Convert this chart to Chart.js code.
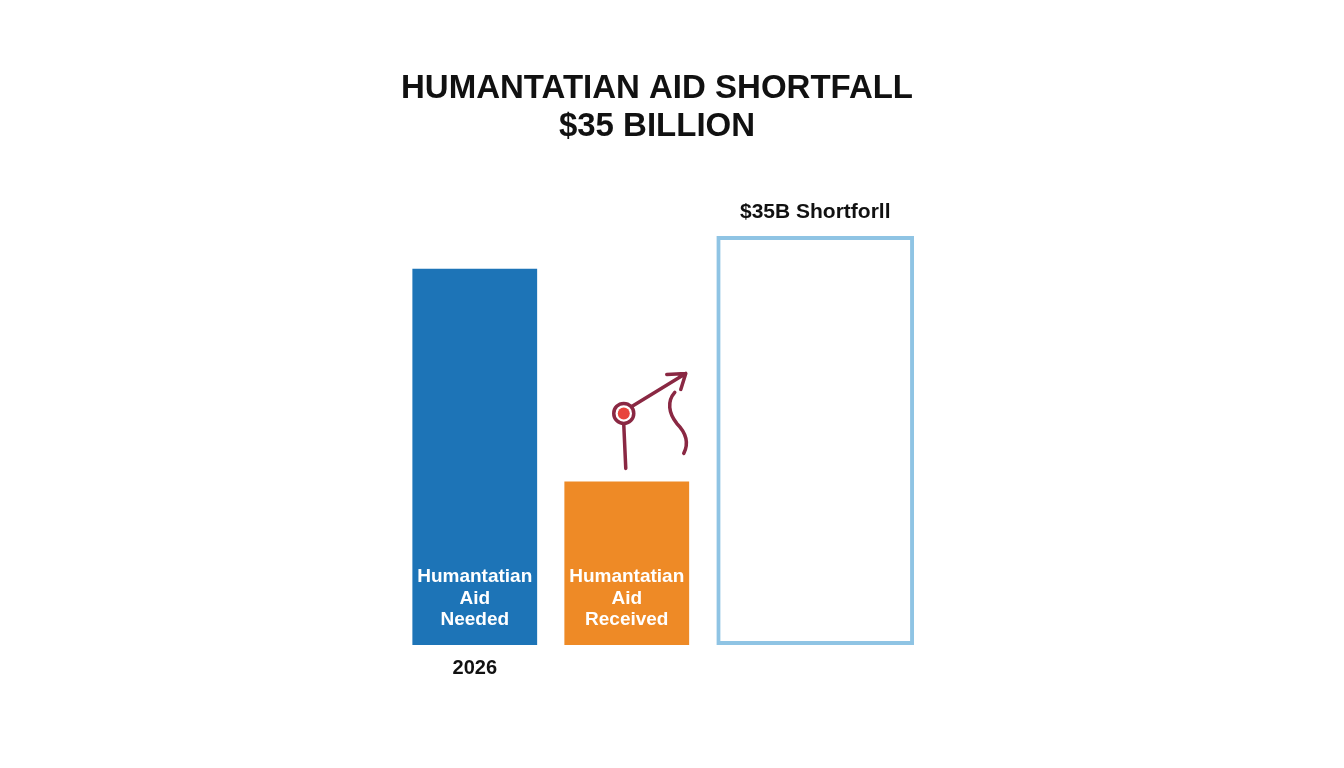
<!DOCTYPE html>
<html>
<head>
<meta charset="utf-8">
<script src="https://cdn.jsdelivr.net/npm/chart.js@4"></script>
<style>
  html, body { margin: 0; padding: 0; background: #ffffff; }
  #wrap { width: 1344px; height: 768px; position: relative; }
</style>
</head>
<body>
<div id="wrap"><canvas id="aidChart"></canvas></div>
<script>
// data (no axis shown, units relative)
const categories = ["Needed", "Received", "Shortfall"];
const aidValues = [46, 20, null];
const shortfallValues = [null, null, 50];
const barLabels = [
  ["Humantatian", "Aid", "Needed"],
  ["Humantatian", "Aid", "Received"]
];
const yearLabel = "2026";
const shortfallLabel = "$35B Shortforll";
const titleLines = ["HUMANTATIAN AID SHORTFALL", "$35 BILLION"];

const FONT = "'Liberation Sans', Arial, sans-serif";

// titles, labels in bars and the little arrow doodle
const textPlugin = {
  id: "textPlugin",
  afterDatasetsDraw(chart) {
    const ctx = chart.ctx;
    const aid = chart.getDatasetMeta(0).data;
    const gap = chart.getDatasetMeta(1).data[2];

    ctx.save();
    ctx.textAlign = "center";
    ctx.textBaseline = "middle";

    ctx.fillStyle = "#111111";
    ctx.font = "bold 33px " + FONT;
    ctx.fillText(titleLines[0], 657, 89);
    ctx.fillText(titleLines[1], 657, 127);

    // white labels near the bottom of the filled bars
    ctx.fillStyle = "#ffffff";
    ctx.font = "bold 19px " + FONT;
    barLabels.forEach((lines, i) => {
      const bar = aid[i];
      lines.forEach((t, j) => {
        ctx.fillText(t, bar.x, bar.base - 68 + j * 21.5);
      });
    });

    ctx.fillStyle = "#111111";
    ctx.font = "bold 20px " + FONT;
    ctx.fillText(yearLabel, aid[0].x, aid[0].base + 23);

    ctx.font = "bold 21px " + FONT;
    ctx.fillText(shortfallLabel, gap.x, gap.y - 24);

    // doodle above the received bar
    const bx = aid[1].x, by = aid[1].y;
    ctx.strokeStyle = "#8a2843";
    ctx.lineWidth = 3.5;
    ctx.lineCap = "round";
    ctx.lineJoin = "round";

    ctx.beginPath();
    ctx.moveTo(bx - 1, by - 13);
    ctx.lineTo(bx - 3, by - 57);
    ctx.stroke();

    ctx.beginPath();
    ctx.arc(bx - 3, by - 68, 10, 0, Math.PI * 2);
    ctx.stroke();
    ctx.fillStyle = "#e8453c";
    ctx.beginPath();
    ctx.arc(bx - 3, by - 68, 6, 0, Math.PI * 2);
    ctx.fill();

    ctx.beginPath();
    ctx.moveTo(bx + 5, by - 75);
    ctx.lineTo(bx + 59, by - 108);
    ctx.moveTo(bx + 40, by - 107);
    ctx.lineTo(bx + 59, by - 108);
    ctx.lineTo(bx + 54, by - 92);
    ctx.stroke();

    ctx.beginPath();
    ctx.moveTo(bx + 48, by - 89);
    ctx.bezierCurveTo(bx + 40, by - 80, bx + 42, by - 68, bx + 50, by - 58);
    ctx.bezierCurveTo(bx + 60, by - 48, bx + 62, by - 38, bx + 57, by - 28);
    ctx.stroke();

    ctx.restore();
  }
};

new Chart(document.getElementById("aidChart"), {
  type: "bar",
  data: {
    labels: categories,
    datasets: [
      {
        label: "Humanitarian Aid",
        data: aidValues,
        backgroundColor: ["#1d74b7", "#ee8a26"],
        borderWidth: 0,
        barPercentage: 3.42,
        clip: false
      },
      {
        label: "Shortfall",
        data: shortfallValues,
        backgroundColor: "rgba(255,255,255,0)",
        borderColor: "#8fc4e4",
        borderWidth: 4,
        borderSkipped: false,
        barPercentage: 5.42,
        clip: false
      }
    ]
  },
  options: {
    responsive: true,
    maintainAspectRatio: false,
    animation: false,
    categoryPercentage: 0.48,
    layout: { padding: { left: 417, right: 471, top: 236, bottom: 123 } },
    plugins: {
      legend: { display: false },
      title: { display: false },
      tooltip: { enabled: false }
    },
    scales: {
      x: { display: false, grid: { display: false } },
      y: { display: false, min: 0, max: 50, grid: { display: false } }
    }
  },
  plugins: [textPlugin]
});
</script>
</body>
</html>
